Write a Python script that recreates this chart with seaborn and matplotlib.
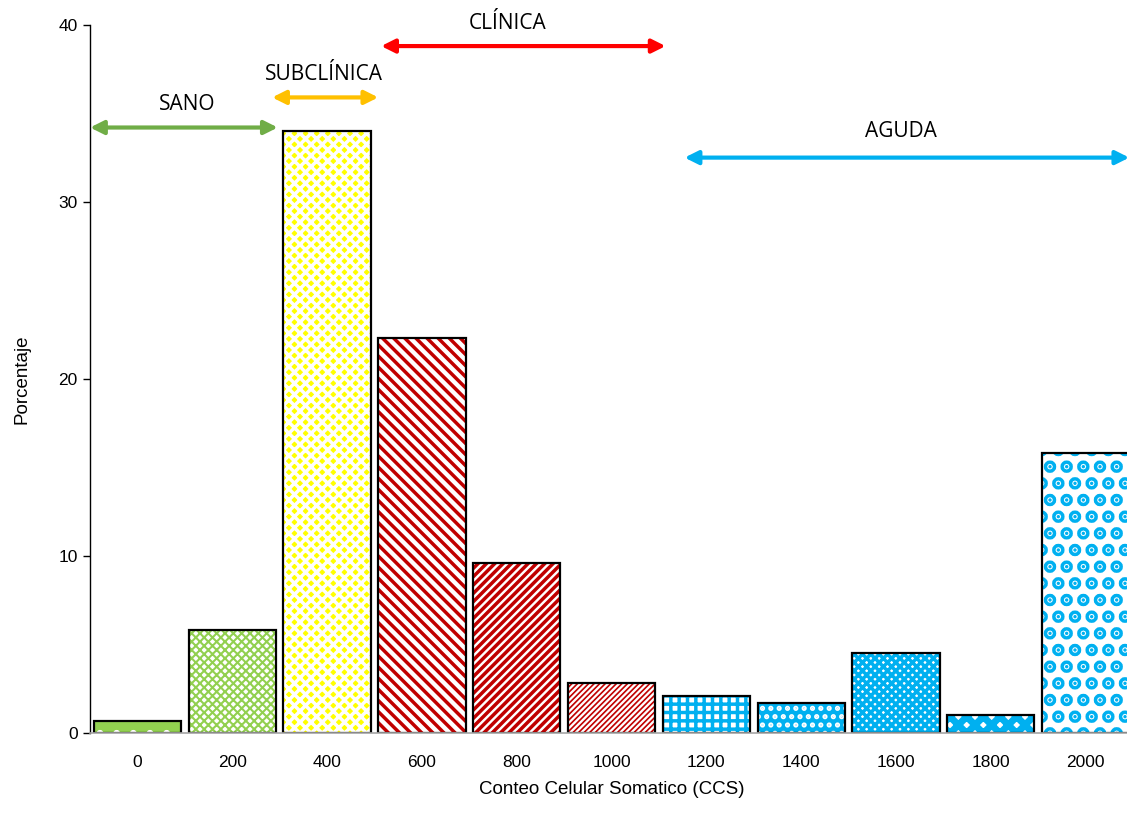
import matplotlib
matplotlib.use("Agg")
import matplotlib.pyplot as plt
import seaborn as sns
import pandas as pd

categories = ["0", "200", "400", "600", "800", "1000", "1200", "1400", "1600", "1800", "2000"]
values = [0.7, 5.8, 34.0, 22.3, 9.6, 2.8, 2.1, 1.7, 4.5, 1.0, 15.8]
zones = ["SANO", "SUBCLÍNICA", "CLÍNICA", "AGUDA"]

green, yellow, red, blue = "#92D050", "#FFFF00", "#C00000", "#00B0F0"
faces = [green, "white", yellow, "white", "white", "white", "white", blue, "white", "white", "white"]
hatchcol = ["white", green, "white", red, red, red, blue, "white", blue, blue, blue]
hatches = [".", "xxxx", "xxx", "\\\\\\", "////", "//////", "++", "..", "xxxx", "xx", "."]
hatch_lw = [2.5, 1.5, 2.5, 2.5, 2.5, 1.2, 2.5, 2.5, 2.5, 5.0, 6.5]

sns.set_theme(style="white")
plt.rcParams["font.family"] = ["Liberation Sans", "DejaVu Sans"]
plt.rcParams["text.color"] = "black"
plt.rcParams["axes.labelcolor"] = "black"
plt.rcParams["xtick.color"] = "black"
plt.rcParams["ytick.color"] = "black"

df = pd.DataFrame({"ccs": categories, "pct": values})

fig = plt.figure(figsize=(11.27, 8.14), dpi=100)
ax = fig.add_axes([0.0799, 0.0995, 0.9255, 0.8700])

sns.barplot(data=df, x="ccs", y="pct", order=categories, width=0.92, ax=ax,
            color="white", saturation=1, linewidth=0, errorbar=None)
for i, p in enumerate(ax.patches):
    p.set_facecolor(faces[i])
    p.set_edgecolor(hatchcol[i])
    p.set_hatch(hatches[i])
    try:
        p.set_hatch_linewidth(hatch_lw[i])
    except Exception:
        p._hatch_linewidth = hatch_lw[i]
    p.set_linewidth(0)

sns.barplot(data=df, x="ccs", y="pct", order=categories, width=0.92, ax=ax,
            fill=False, edgecolor="black", linewidth=1.6, errorbar=None)

ax.set_xlim(-0.5, 10.5)
ax.set_ylim(0, 40)
ax.set_yticks([0, 10, 20, 30, 40])
ax.tick_params(axis="y", left=True, length=5, width=1, color="black", labelsize=12.5, pad=4)
ax.tick_params(axis="x", bottom=False, labelsize=12.5, pad=10)
for s in ["top", "right"]:
    ax.spines[s].set_visible(False)
ax.spines["left"].set_color("black")
ax.spines["left"].set_linewidth(1)
ax.spines["bottom"].set_color("#A6A6A6")
ax.spines["bottom"].set_linewidth(1.2)
ax.set_xlabel("Conteo Celular Somatico (CCS)", fontsize=13.5, labelpad=8)
ax.set_ylabel("Porcentaje", fontsize=13.5, labelpad=20)

arrows = [(-0.5, 1.48, 34.2, "#70AD47"), (1.42, 2.54, 35.9, "#FFC000"),
          (2.57, 5.57, 38.8, "#FF0000"), (5.77, 10.46, 32.5, "#00B0F0")]
labels_pos = [(0.52, 35.5), (1.97, 37.2), (3.9, 40.05), (8.05, 34.0)]
for (x0, x1, y, c), z, (lx, ly) in zip(arrows, zones, labels_pos):
    ax.annotate("", xy=(x1, y), xytext=(x0, y), annotation_clip=False,
                arrowprops=dict(arrowstyle="<|-|>", color=c, lw=3, mutation_scale=20,
                                shrinkA=0, shrinkB=0))
    ax.text(lx, ly, z, ha="center", va="center", fontsize=15, clip_on=False,
            color="black", family=["Open Sans", "DejaVu Sans"])

fig.savefig("out.png", dpi=100)
